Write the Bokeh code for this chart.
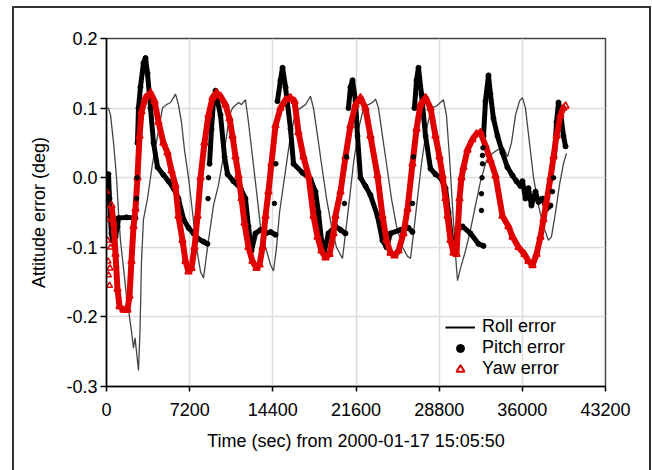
import numpy as np
from bokeh.plotting import figure
from bokeh.models import (Range1d, FixedTicker, PrintfTickFormatter, Legend, LegendItem,
                          InlineStyleSheet)
from bokeh.embed import file_html
from bokeh.resources import INLINE

nan = float("nan")

# ---------------- data (time in seconds from 2000-01-17 15:05:50, errors in deg) ----------------
x_ticks = [0, 7200, 14400, 21600, 28800, 36000, 43200]
y_ticks = [-0.3, -0.2, -0.1, 0.0, 0.1, 0.2]

roll_t = [0, 170, 350, 610, 870, 1040, 1210, 1470, 1730, 1990, 2160, 2340, 2470, 2600, 2770,
          2900, 3030, 3200, 3550, 3980, 4420, 4850, 5190, 5540, 5800, 5970, 6230, 6490, 6750,
          7100, 7450, 7790, 8140, 8400, 8830, 9260, 9700, 10220, 10650, 10910, 11430, 11690,
          12030, 12290, 12640, 12990, 13330, 13770, 14200, 14460, 14720, 14980, 15410, 15840,
          16360, 16790, 17230, 17660, 17920, 18270, 18610, 19050, 19480, 19910, 20430, 20690,
          21040, 21380, 21820, 22250, 22680, 23030, 23290, 23550, 23890, 24240, 24670, 25110,
          25630, 26060, 26320, 26580, 26920, 27270, 27700, 28140, 28570, 28910, 29170, 29430,
          29690, 29950, 30210, 30390, 30650, 31080, 31510, 31940, 32380, 32900, 33420, 33850,
          34370, 34710, 35060, 35410, 35750, 36010, 36270, 36620, 36970, 37400, 37830, 38260,
          38520, 38870, 39220, 39560, 39820]
roll_v = [0.100, 0.100, 0.090, 0.050, 0.000, -0.050, -0.090, -0.130, -0.170, -0.200, -0.220,
          -0.245, -0.230, -0.250, -0.277, -0.220, -0.120, -0.060, -0.030, 0.020, 0.060, 0.100,
          0.105, 0.108, 0.115, 0.120, 0.105, 0.080, 0.040, 0.000, -0.050, -0.100, -0.135,
          -0.144, -0.090, -0.040, -0.010, 0.040, 0.090, 0.100, 0.108, 0.105, 0.112, 0.080,
          0.030, -0.020, -0.070, -0.100, -0.125, -0.134, -0.100, -0.050, 0.000, 0.050, 0.095,
          0.100, 0.105, 0.117, 0.100, 0.060, 0.020, -0.030, -0.070, -0.100, -0.116, -0.080,
          -0.030, 0.020, 0.070, 0.100, 0.105, 0.108, 0.113, 0.100, 0.060, 0.020, -0.030,
          -0.070, -0.100, -0.113, -0.116, -0.080, -0.030, 0.020, 0.070, 0.100, 0.103, 0.108,
          0.112, 0.090, 0.030, -0.040, -0.110, -0.148, -0.130, -0.105, -0.075, -0.040, -0.005,
          0.025, 0.035, 0.040, 0.043, 0.030, 0.050, 0.090, 0.110, 0.115, 0.100, 0.050, 0.000,
          -0.040, -0.070, -0.090, -0.085, -0.050, -0.010, 0.020, 0.035]

# pitch: continuous stretches separated by nan
pitch_t = [0, 90, 170, 260, 350, 430, 520, 780, 950, 1040, 1730, 2510, nan,
           2680, 2770, 2940, 3200, 3380, 3550, 3810, 4070, 4420, 4930, 5370, 5800, 6230, 6670,
           7100, 7530, 7960, 8400, 8740, nan,
           8920, 9090, 9260, 9440, 9610, 9870, 10220, 10480, 10990, 11600, 12030, 12290, 12550,
           12900, 13330, 13770, 14200, 14630, nan,
           14800, 15060, 15240, 15500, 15930, 16190, 16970, 17660, 18090, 18350, 18610, 18870,
           19220, 19820, 20260, 20690, nan,
           20950, 21120, 21300, 21560, 21730, 21990, 22420, 22850, 23460, 23890, 24240, 24590,
           25450, 26140, 26490, nan,
           26660, 26840, 27010, 27270, 27620, 28050, 28480, 28910, 29350, 29610, 29870, 30130,
           30390, 30820, 31510, 32200, 32640, nan,
           32640, 32810, 33070, 33240, 33500, 33850, 34280, 34710, 35150, 35490, 35840, 36010,
           36270, 36530, 36790, 37140, 37400, 37740, 38090, 38440, nan,
           38780, 38960, 39130, 39300, 39560, 39740]
pitch_v = [0.000, -0.010, 0.005, -0.030, -0.060, -0.080, -0.090, -0.085, -0.070, -0.058,
           -0.057, -0.058, nan,
           0.050, 0.100, 0.130, 0.165, 0.172, 0.150, 0.100, 0.050, 0.015, 0.004, -0.005, -0.015,
           -0.030, -0.060, -0.072, -0.080, -0.088, -0.092, -0.095, nan,
           0.020, 0.070, 0.110, 0.125, 0.110, 0.090, 0.030, 0.005, -0.005, -0.015, -0.030,
           -0.070, -0.105, -0.080, -0.075, -0.080, -0.078, -0.082, nan,
           0.110, 0.140, 0.158, 0.130, 0.070, 0.020, 0.007, -0.002, -0.020, -0.050, -0.090,
           -0.105, -0.080, -0.070, -0.075, -0.080, nan,
           0.100, 0.130, 0.140, 0.110, 0.060, 0.000, -0.012, -0.025, -0.055, -0.090, -0.100,
           -0.080, -0.075, -0.072, -0.078, nan,
           0.100, 0.140, 0.158, 0.120, 0.060, 0.013, 0.005, 0.000, -0.015, -0.050, -0.090,
           -0.100, -0.075, -0.070, -0.080, -0.095, -0.098, nan,
           0.060, 0.110, 0.147, 0.120, 0.085, 0.060, 0.036, 0.015, 0.003, -0.005, -0.012,
           -0.005, -0.030, -0.015, -0.040, -0.020, -0.035, -0.030, -0.045, -0.040, nan,
           0.030, 0.080, 0.108, 0.095, 0.060, 0.045]
# pitch samples on the steep climbs (seen as separate dots)
pitch_dot_t = [2600, 2640, 8790, 8830, 14540, 14670, 20600, 20780, 26490, 26580,
               32460, 32460, 32510, 32550, 32550, 32590, 38610, 38700]
pitch_dot_v = [-0.030, 0.000, -0.030, 0.000, -0.037, 0.020, -0.037, 0.030, -0.037, 0.030,
               -0.047, -0.023, 0.000, 0.020, 0.032, 0.043, -0.020, 0.000]

yaw_t = [430, 610, 780, 950, 1130, 1470, 1820, 1990, 2160, 2340, 2510, 2680, 2860, 3030, 3380,
         3810, 4160, 4500, 4930, 5280, 5630, 5970, 6230, 6580, 6840, 7100, 7360, 7620, 7880,
         8140, 8480, 8830, 9180, 9520, 9870, 10300, 10650, 10910, 11170, 11430, 11690, 11950,
         12290, 12640, 12990, 13250, 13510, 13770, 14020, 14280, 14630, 15060, 15500, 15930,
         16280, 16620, 17050, 17490, 17920, 18270, 18610, 18960, 19310, 19650, 19820, 20260,
         20690, 21120, 21560, 21990, 22420, 22850, 23460, 23890, 24240, 24590, 24930, 25280,
         25710, 26060, 26490, 26840, 27180, 27620, 28050, 28480, 28830, 29090, 29350, 29520,
         29780, 30040, 30300, 30430, 30560, 30730, 30910, 31250, 31680, 32030, 32380, 32810,
         33240, 33680, 34280, 34800, 35150, 35670, 36190, 36530, 36880, 37230, 37570, 37830,
         38090, 38440, 38700, 38960, 39300, 39560, 39740]
yaw_v = [-0.040, -0.065, -0.110, -0.160, -0.185, -0.190, -0.190, -0.170, -0.120, -0.070,
         -0.045, 0.000, 0.060, 0.095, 0.115, 0.122, 0.110, 0.080, 0.050, 0.036, 0.010, -0.011,
         -0.055, -0.090, -0.120, -0.135, -0.130, -0.100, -0.055, 0.000, 0.050, 0.090, 0.115,
         0.122, 0.117, 0.105, 0.085, 0.060, 0.030, 0.003, -0.030, -0.065, -0.100, -0.120,
         -0.130, -0.125, -0.100, -0.055, -0.020, 0.020, 0.075, 0.100, 0.112, 0.115, 0.110,
         0.065, 0.030, 0.003, -0.055, -0.085, -0.105, -0.115, -0.110, -0.080, -0.055, -0.020,
         0.030, 0.075, 0.105, 0.115, 0.100, 0.060, 0.003, -0.055, -0.090, -0.108, -0.112,
         -0.105, -0.080, -0.045, 0.020, 0.070, 0.105, 0.115, 0.100, 0.060, 0.030, 0.003,
         -0.030, -0.055, -0.090, -0.108, -0.110, -0.070, -0.030, 0.000, 0.015, 0.040, 0.055,
         0.063, 0.065, 0.046, 0.025, 0.003, -0.055, -0.070, -0.085, -0.100, -0.110, -0.120,
         -0.126, -0.110, -0.085, -0.060, -0.035, 0.000, 0.030, 0.060, 0.090, 0.100, 0.103]
# yaw samples at the very start (scattered)
yaw_dot_t = [0, 40, 90, 130, 170, 260, 300, 350]
yaw_dot_v = [-0.020, -0.060, -0.090, -0.120, -0.140, -0.155, -0.130, -0.100]

FONT = "Liberation Sans"
RED = "#e00000"

p = figure(width=652, height=470, output_backend="svg", toolbar_location=None,
           x_range=Range1d(0, 43200), y_range=Range1d(-0.3, 0.2),
           min_border_left=106, min_border_right=47, min_border_top=38, min_border_bottom=84,
           background_fill_color="white", border_fill_color="white")

# outer frame of the whole figure (open at the bottom, as in the original)
p.stylesheets = [InlineStyleSheet(css=(
    ":host::after { content: ''; position: absolute; left: 12px; top: 6px; right: 1px;"
    " bottom: 0px; border-style: solid; border-color: #333333; border-width: 2px 2px 0 2px;"
    " pointer-events: none; box-sizing: border-box; }"))]

p.outline_line_color = "#444444"
p.outline_line_width = 1.5

for ax in (p.xaxis[0], p.yaxis[0]):
    ax.axis_line_color = "black"
    ax.axis_line_width = 1.5
    ax.major_tick_line_color = "black"
    ax.major_tick_line_width = 1.5
    ax.major_tick_in = 0
    ax.minor_tick_line_color = None
    ax.major_label_text_font = FONT
    ax.major_label_text_font_size = "18px"
    ax.major_label_text_color = "black"
    ax.axis_label_text_font = FONT
    ax.axis_label_text_font_size = "18px"
    ax.axis_label_text_font_style = "normal"
    ax.axis_label_text_color = "black"

p.xaxis[0].ticker = FixedTicker(ticks=x_ticks)
p.yaxis[0].ticker = FixedTicker(ticks=y_ticks)
p.yaxis[0].formatter = PrintfTickFormatter(format="%.1f")
p.xaxis[0].major_tick_out = 5
p.yaxis[0].major_tick_out = 6
p.xaxis[0].major_label_standoff = 11
p.yaxis[0].major_label_standoff = 3
p.xaxis[0].axis_label = "Time (sec) from 2000-01-17 15:05:50"
p.yaxis[0].axis_label = "Attitude error (deg)"
p.xaxis[0].axis_label_standoff = 12
p.yaxis[0].axis_label_standoff = 14

p.xgrid[0].ticker = FixedTicker(ticks=x_ticks)
p.ygrid[0].ticker = FixedTicker(ticks=y_ticks)
for g in (p.xgrid[0], p.ygrid[0]):
    g.grid_line_color = "#dddddd"
    g.grid_line_width = 1.5

p.line(roll_t, roll_v, line_color="#444444", line_width=1.3)
p.line(pitch_t, pitch_v, line_color="black", line_width=5)
p.scatter(pitch_t, pitch_v, marker="circle", size=5, fill_color="black", line_color="black")
p.line(yaw_t, yaw_v, line_color=RED, line_width=6)
p.scatter(yaw_t, yaw_v, marker="triangle", size=7, fill_color=None,
          line_color=RED, line_width=1.5)
p.scatter(yaw_dot_t, yaw_dot_v, marker="triangle", size=6, fill_color=None,
          line_color=RED, line_width=1.5)
p.scatter(pitch_dot_t, pitch_dot_v, marker="circle", size=4.5, fill_color="black",
          line_color="black")

# legend-only glyphs (no visible data)
leg_roll = p.line([nan], [nan], line_color="black", line_width=2)
leg_pitch = p.scatter([nan], [nan], marker="circle", size=10, fill_color="black",
                      line_color="black")
leg_yaw = p.scatter([nan], [nan], marker="triangle", size=8, fill_color=None,
                    line_color=RED, line_width=2)

legend = Legend(items=[LegendItem(label="Roll error", renderers=[leg_roll]),
                       LegendItem(label="Pitch error", renderers=[leg_pitch]),
                       LegendItem(label="Yaw error", renderers=[leg_yaw])],
                location=(339, 7), glyph_width=30, glyph_height=20, label_height=20,
                spacing=0, padding=0, margin=0, label_standoff=7,
                label_text_font=FONT, label_text_font_size="18px",
                label_text_color="black", label_text_line_height=1.0,
                border_line_alpha=0, background_fill_alpha=0)
p.add_layout(legend, "center")

open("out.html", "w").write(file_html(p, INLINE))
